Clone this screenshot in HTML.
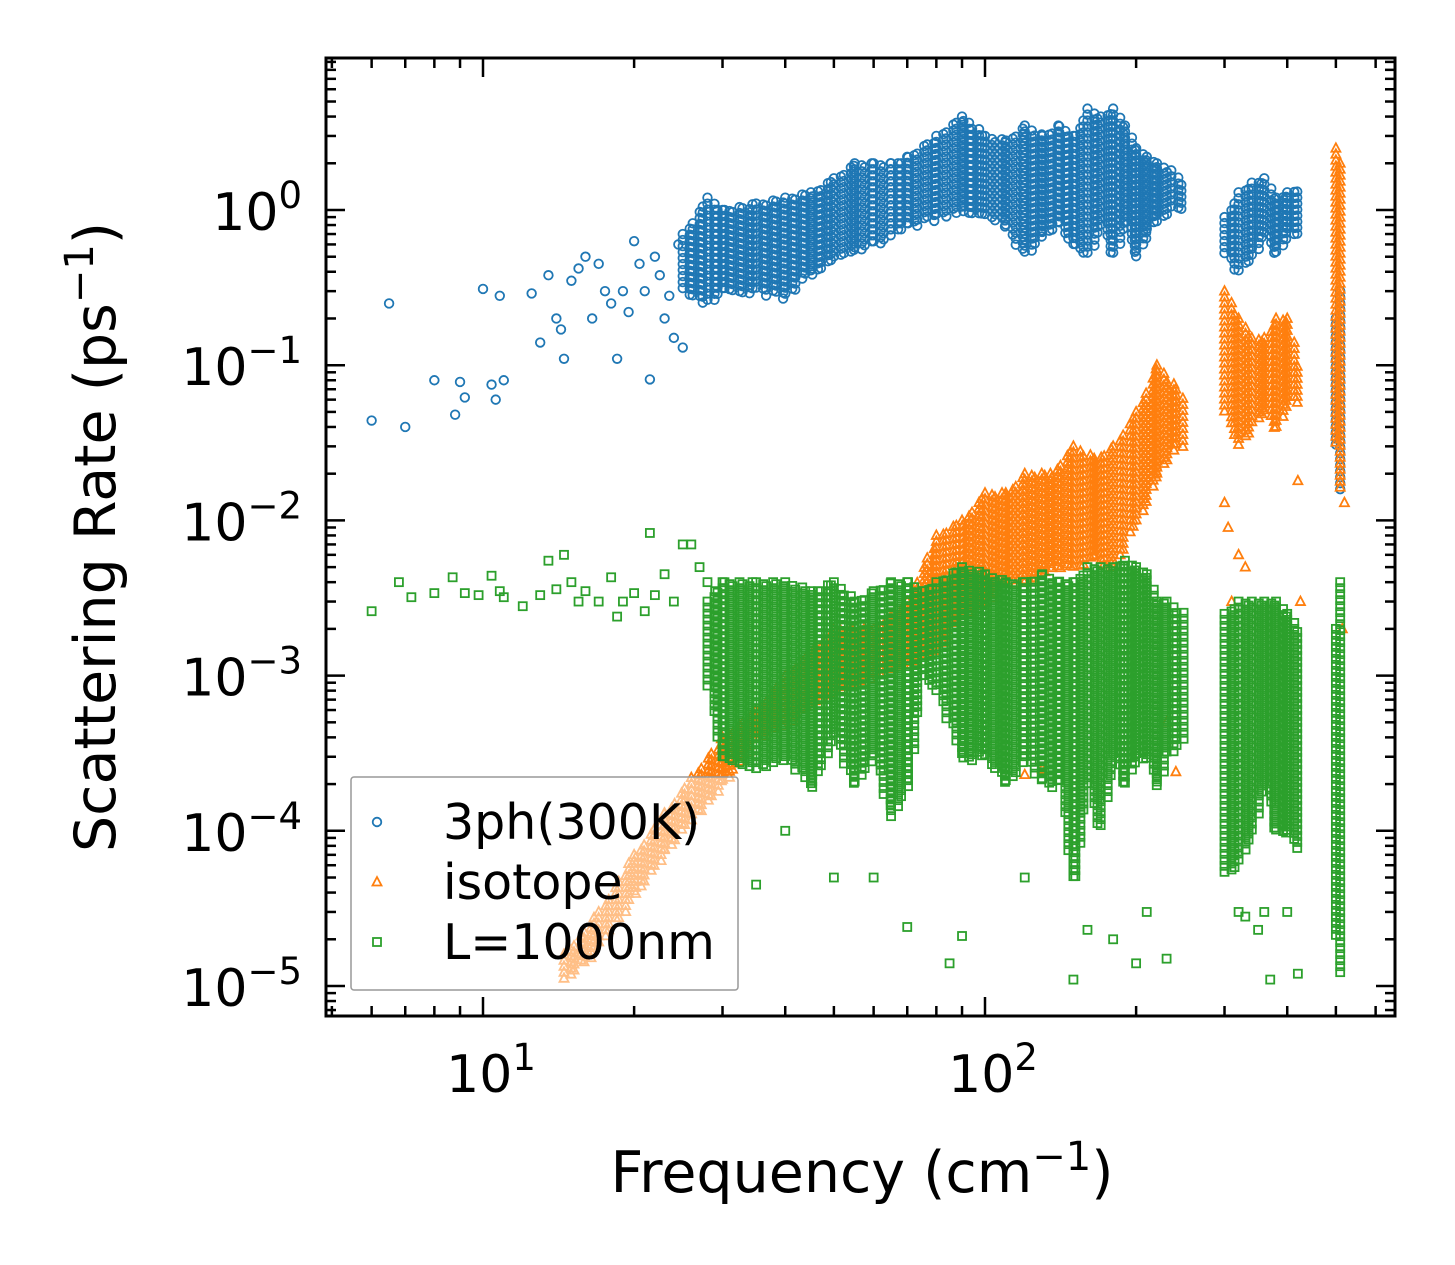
<!DOCTYPE html>
<html><head><meta charset="utf-8"><style>
html,body{margin:0;padding:0;background:#fff;}
svg{display:block;font-family:"DejaVu Sans","Liberation Sans",sans-serif;}
</style></head><body>
<svg id="chart" width="1455" height="1265" viewBox="0 0 1455 1265" xmlns="http://www.w3.org/2000/svg">
<rect width="1455" height="1265" fill="#fff"/>
<g id="marks"></g>
<g id="axes"></g>
<text x="862" y="1192" font-size="57" text-anchor="middle">Frequency (cm<tspan dy="-22" font-size="40">−1</tspan><tspan dy="22">)</tspan></text>
<text transform="translate(115,537) rotate(-90)" font-size="57" text-anchor="middle">Scattering Rate (ps<tspan dy="-22" font-size="40">−1</tspan><tspan dy="22">)</tspan></text>
<g id="legend"></g>
</svg>
<script>
// ---- data ----
const blueScatterF=[6,6.5,7,8,8.8,9,9.2,10,10.4,10.6,10.8,11,12.5,13,13.5,14,14.3,14.5,15,15.5,16,16.5,17,17.5,18,18.5,19,19.5,20,20.5,21,21.5,22,22.5,23,23.5,24,24.5,25];
const blueScatterV=[0.044,0.25,0.04,0.08,0.048,0.078,0.062,0.31,0.075,0.06,0.28,0.08,0.29,0.14,0.38,0.2,0.17,0.11,0.35,0.42,0.5,0.2,0.45,0.3,0.25,0.11,0.3,0.22,0.63,0.45,0.3,0.081,0.5,0.38,0.2,0.28,0.15,0.6,0.13];
const blueBandF=[25,28,30,35,40,45,50,55,60,65,70,80,90,100,110,120,130,140,150,160,170,180,190,200,210,220,235,248];
const blueBandLo=[0.3,0.25,0.3,0.3,0.28,0.4,0.5,0.55,0.6,0.7,0.8,0.9,1.0,0.9,0.8,0.5,0.7,0.8,0.6,0.5,0.8,0.5,0.8,0.5,0.7,0.9,1.0,1.0];
const blueBandHi=[0.7,1.2,1.0,1.1,1.2,1.3,1.6,2.0,2.0,2.0,2.2,3.0,4.0,3.0,2.8,3.5,3.0,3.5,3.0,4.5,4.0,4.5,3.5,2.5,2.2,2.0,1.8,1.5];
const blueBand2F=[300,320,340,360,380,400,420];
const blueBand2Lo=[0.5,0.4,0.5,0.7,0.5,0.7,0.7];
const blueBand2Hi=[0.9,1.3,1.5,1.6,1.2,1.3,1.4];
const blueBand3F=[500,510,520];
const blueBand3Lo=[0.03,0.015,0.03];
const blueBand3Hi=[0.2,0.3,0.12];

const orangeBandF=[14.5,17,20,23,26,30,35,40,50,60,70,80,90,100,110,120,135,150,165,180,200,220,240,248];
const orangeBandLo=[1.1e-5,1.8e-5,4e-5,7e-5,1.2e-4,2e-4,4e-4,5e-4,8e-4,1e-3,1.2e-3,1.5e-3,2.5e-3,3e-3,4e-3,4e-3,5e-3,5e-3,6e-3,5e-3,1e-2,2e-2,3e-2,3e-2];
const orangeBandHi=[1.6e-5,3e-5,7e-5,1.3e-4,2.2e-4,4e-4,6e-4,1e-3,2e-3,2e-3,3e-3,8e-3,1e-2,1.5e-2,1.5e-2,2e-2,2e-2,3e-2,2.5e-2,3e-2,5e-2,1e-1,7e-2,6e-2];
const orangeBand2F=[300,320,340,360,380,400,420];
const orangeBand2Lo=[0.05,0.03,0.04,0.05,0.04,0.06,0.06];
const orangeBand2Hi=[0.3,0.2,0.15,0.15,0.2,0.2,0.1];
const orangeBand3F=[500,510,520];
const orangeBand3Lo=[0.03,0.015,0.02];
const orangeBand3Hi=[2.5,2.0,0.3];
const orangeScatterF=[300,305,310,320,330,420,425,520,515,230,240,120,130];
const orangeScatterV=[0.013,0.009,0.003,0.006,0.005,0.018,0.003,0.013,0.002,5e-4,2.4e-4,2.3e-4,2.5e-4];

const greenScatterF=[6,6.8,7.2,8,8.7,9.2,9.8,10.4,10.8,11,12,13,13.5,14,14.5,15,15.5,16,17,18,18.5,19,20,21,21.5,22,23,24,25,26,27,28,29,35,40,50,60,70,85,90,120,150,160,180,200,210,230,320,330,350,360,370,400,420];
const greenScatterV=[2.6e-3,4e-3,3.2e-3,3.4e-3,4.3e-3,3.4e-3,3.3e-3,4.4e-3,3.5e-3,3.2e-3,2.8e-3,3.3e-3,5.5e-3,3.6e-3,6e-3,4e-3,3e-3,3.5e-3,3e-3,4.3e-3,2.4e-3,3e-3,3.4e-3,2.6e-3,8.3e-3,3.3e-3,4.5e-3,3e-3,7e-3,7e-3,5e-3,4e-3,3.5e-3,4.5e-5,1e-4,5e-5,5e-5,2.4e-5,1.4e-5,2.1e-5,5e-5,1.1e-5,2.3e-5,2e-5,1.4e-5,3e-5,1.5e-5,3e-5,2.8e-5,2.3e-5,3e-5,1.1e-5,3e-5,1.2e-5];
const greenBandF=[28,30,35,40,45,50,55,60,65,70,75,80,90,100,110,120,130,140,150,160,170,180,190,200,210,220,230,248];
const greenBandLo=[8e-4,3e-4,2.5e-4,3e-4,2e-4,4e-4,2e-4,3e-4,1.2e-4,2e-4,1e-3,8e-4,3e-4,3e-4,2e-4,3e-4,2e-4,2e-4,5e-5,2e-4,1e-4,3e-4,2e-4,3e-4,3e-4,2e-4,3e-4,4e-4];
const greenBandHi=[3e-3,4e-3,4e-3,4e-3,3.5e-3,4e-3,3e-3,3.5e-3,4e-3,4e-3,3.5e-3,4e-3,5e-3,4.5e-3,4e-3,4e-3,4.5e-3,4e-3,4e-3,5e-3,5e-3,5e-3,5.5e-3,5e-3,4.5e-3,3e-3,3e-3,2.5e-3];
const greenBand2F=[300,320,340,360,380,400,420];
const greenBand2Lo=[5e-5,6e-5,1e-4,2e-4,1e-4,1e-4,8e-5];
const greenBand2Hi=[2.5e-3,3e-3,3e-3,3e-3,3e-3,2.5e-3,2e-3];
const greenBand3F=[500,510,520];
const greenBand3Lo=[2e-5,1.2e-5,1.5e-4];
const greenBand3Hi=[2e-3,4e-3,2.5e-3];

// ---- axes functions ----
const L=326,R=1395,T=58,B=1016;
const X10=483,DX=502, Y0=210, DY=155.2;
const xs=f=>X10+(Math.log10(f)-1)*DX;
const ys=v=>Y0-Math.log10(v)*DY;
const NS="http://www.w3.org/2000/svg";
const marks=document.getElementById('marks');
const C={blue:'#1f77b4',orange:'#ff7f0e',green:'#2ca02c'};

function marker(type,x,y,col,parent){
  let el;
  if(type==='circle'){el=document.createElementNS(NS,'circle');el.setAttribute('cx',x);el.setAttribute('cy',y);el.setAttribute('r',4.3);}
  else if(type==='tri'){el=document.createElementNS(NS,'polygon');el.setAttribute('points',`${x},${y-5} ${x-4.5},${y+3.5} ${x+4.5},${y+3.5}`);}
  else {el=document.createElementNS(NS,'rect');el.setAttribute('x',x-4);el.setAttribute('y',y-4);el.setAttribute('width',8);el.setAttribute('height',8);}
  el.setAttribute('fill','none');el.setAttribute('stroke',col);el.setAttribute('stroke-width',1.8);
  
  
  parent.appendChild(el);
}
function drawBand(type,col,F,Lo,Hi,g){
  for(let i=0;i<F.length-1;i++){
    const x0=xs(F[i]),x1=xs(F[i+1]);
    let k=0;
    for(let x=x0;x<x1;x+=5,k++){
      const t=(x-x0)/(x1-x0);
      const ylo=ys(Lo[i])*(1-t)+ys(Lo[i+1])*t;
      const yhi=ys(Hi[i])*(1-t)+ys(Hi[i+1])*t;
      for(let y=yhi;y<=ylo;y+=6) marker(type,x+((k%2)?2:0),y+((k%3)*2),col,g);
    }
  }
}
function drawScatter(type,col,F,V,g){for(let i=0;i<F.length;i++) marker(type,xs(F[i]),ys(V[i]),col,g);}
function series(name){const g=document.createElementNS(NS,'g');marks.appendChild(g);return g;}

const gb=series('series-3ph');
drawScatter('circle',C.blue,blueScatterF,blueScatterV,gb);
drawBand('circle',C.blue,blueBandF,blueBandLo,blueBandHi,gb);
drawBand('circle',C.blue,blueBand2F,blueBand2Lo,blueBand2Hi,gb);
drawBand('circle',C.blue,blueBand3F,blueBand3Lo,blueBand3Hi,gb);
const go=series('series-isotope');
drawBand('tri',C.orange,orangeBandF,orangeBandLo,orangeBandHi,go);
drawBand('tri',C.orange,orangeBand2F,orangeBand2Lo,orangeBand2Hi,go);
drawBand('tri',C.orange,orangeBand3F,orangeBand3Lo,orangeBand3Hi,go);
drawScatter('tri',C.orange,orangeScatterF,orangeScatterV,go);
const gg=series('series-boundary');
drawScatter('square',C.green,greenScatterF,greenScatterV,gg);
drawBand('square',C.green,greenBandF,greenBandLo,greenBandHi,gg);
drawBand('square',C.green,greenBand2F,greenBand2Lo,greenBand2Hi,gg);
drawBand('square',C.green,greenBand3F,greenBand3Lo,greenBand3Hi,gg);

// ---- axes ----
const ax=document.getElementById('axes');
function line(x1,y1,x2,y2,w,name){const l=document.createElementNS(NS,'line');l.setAttribute('x1',x1);l.setAttribute('y1',y1);l.setAttribute('x2',x2);l.setAttribute('y2',y2);l.setAttribute('stroke','#000');l.setAttribute('stroke-width',w);


ax.appendChild(l);}
const frame=document.createElementNS(NS,'rect');
frame.setAttribute('x',L);frame.setAttribute('y',T);frame.setAttribute('width',R-L);frame.setAttribute('height',B-T);frame.setAttribute('fill','none');frame.setAttribute('stroke','#000');frame.setAttribute('stroke-width',3);


ax.appendChild(frame);
const xDecades=[0,1,2];
for(const d of xDecades){for(let m=1;m<10;m++){const x=xs(m*Math.pow(10,d));if(x<L+2||x>R-2)continue;const len=m===1?19:10;
line(x,B,x,B-len,2.5,'x-tick');line(x,T,x,T+len,2.5,'x-tick-top');}}
const yDecades=[-6,-5,-4,-3,-2,-1,0];
for(const d of yDecades){for(let m=1;m<10;m++){const y=ys(m*Math.pow(10,d));if(y<T+2||y>B-2)continue;const len=m===1?19:10;
line(L,y,L+len,y,2.5,'y-tick');line(R,y,R-len,y,2.5,'y-tick-right');}}
const xTickExp=['1','2'];
xTickExp.forEach(e=>{const t=document.createElementNS(NS,'text');t.setAttribute('x',xs(Math.pow(10,+e))+8);t.setAttribute('y',1092);t.setAttribute('font-size',52);t.setAttribute('text-anchor','middle');


t.innerHTML=`10<tspan dy="-22" font-size="37">${e}</tspan>`;ax.appendChild(t);});
const yTickExp=['0','−1','−2','−3','−4','−5'];
yTickExp.forEach((e,i)=>{const t=document.createElementNS(NS,'text');t.setAttribute('x',302);t.setAttribute('y',ys(Math.pow(10,-i))+20);t.setAttribute('font-size',52);t.setAttribute('text-anchor','end');


t.innerHTML=`10<tspan dy="-22" font-size="37">${e}</tspan>`;ax.appendChild(t);});

// ---- legend ----
const lg=document.getElementById('legend');
const box=document.createElementNS(NS,'rect');
box.setAttribute('x',351);box.setAttribute('y',777);box.setAttribute('width',387);box.setAttribute('height',213);box.setAttribute('rx',3);box.setAttribute('fill','#fff');box.setAttribute('fill-opacity',0.5);box.setAttribute('stroke','#999');box.setAttribute('stroke-width',1.5);


lg.appendChild(box);
const legLabels=['3ph(300K)','isotope','L=1000nm'];
const legTypes=['circle','tri','square'];
const legCols=[C.blue,C.orange,C.green];
legLabels.forEach((s,i)=>{const y=822+i*60;marker(legTypes[i],377,y,legCols[i],lg);
const t=document.createElementNS(NS,'text');t.setAttribute('x',443);t.setAttribute('y',y+17);t.setAttribute('font-size',49);


t.textContent=s;lg.appendChild(t);});
</script>
</body></html>
